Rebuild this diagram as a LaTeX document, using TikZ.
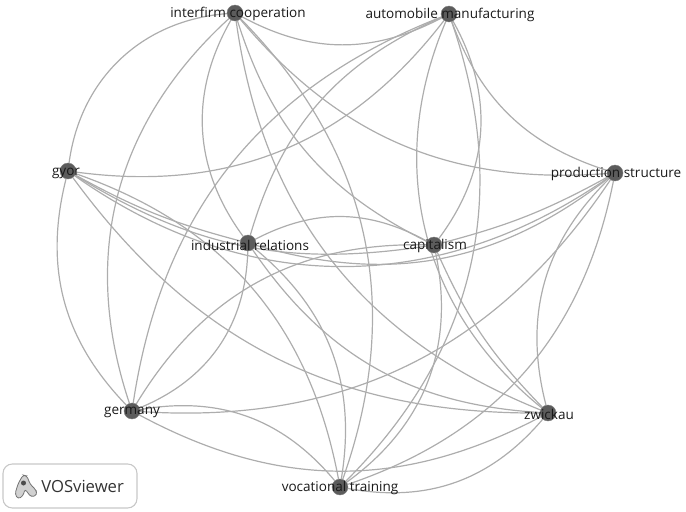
\documentclass[tikz,border=0pt]{standalone}
\usepackage{fontspec}
\setmainfont{Open Sans}
\usetikzlibrary{positioning,backgrounds}

\begin{document}
\begin{tikzpicture}[
    x=0.75pt, y=-0.75pt,
    term/.style={circle, fill=black!64, draw=black!50, line width=0.3pt, minimum size=12pt, inner sep=0pt},
    link/.style={draw, line width=0.9pt, color=black!32},
    tag/.style={inner sep=0pt, text=black!90, font=\fontsize{10.15}{12}\selectfont}
]
\useasboundingbox (0,0) rectangle (686,511);

% Define term positions
\node[term] (coop) at (235, 13) {};
\node[term] (auto) at (449, 14) {};
\node[term] (prod) at (615, 173) {};
\node[term] (gyor) at (68, 171) {};
\node[term] (rel) at (248, 243) {};
\node[term] (cap) at (434, 245) {};
\node[term] (ger) at (132, 411) {};
\node[term] (zwi) at (548, 413) {};
\node[term] (voc) at (340, 487) {};

% Draw links behind the terms
\begin{scope}[on background layer]
\draw[link] (coop) to[bend right=28] (auto);
\draw[link] (coop) to[bend right=39] (gyor);
\draw[link] (coop) to[bend right=33] (ger);
\draw[link] (coop) to[bend right=33] (rel);
\draw[link] (coop) to[bend right=23] (cap);
\draw[link] (coop) to[bend right=27] (prod);
\draw[link] (coop) to[bend left=32] (voc);
\draw[link] (coop) to[bend right=30] (zwi);
\draw[link] (auto) to[bend right=25] (rel);
\draw[link] (auto) to[bend right=30] (ger);
\draw[link] (auto) to[bend left=30] (gyor);
\draw[link] (auto) to[bend right=26] (prod);
\draw[link] (auto) to[bend left=33] (cap);
\draw[link] (auto) to[bend left=32] (voc);
\draw[link] (auto) to[bend right=37] (zwi);
\draw[link] (prod) to[bend left=7] (cap);
\draw[link] (prod) to[bend left=35] (gyor);
\draw[link] (prod) to[bend left=27] (rel);
\draw[link] (prod) to[bend left=30] (ger);
\draw[link] (prod) to[bend right=30] (zwi);
\draw[link] (prod) to[bend left=30] (voc);
\draw[link] (gyor) to[bend right=7] (rel);
\draw[link] (gyor) to[bend right=20] (cap);
\draw[link] (gyor) to[bend right=29] (ger);
\draw[link] (gyor) to[bend right=27] (zwi);
\draw[link] (gyor) to[bend left=30] (voc);
\draw[link] (rel) to[bend left=28] (cap);
\draw[link] (rel) to[bend left=33] (ger);
\draw[link] (rel) to[bend left=30] (voc);
\draw[link] (rel) to[bend right=26] (zwi);
\draw[link] (cap) to[bend right=30] (ger);
\draw[link] (cap) to[bend right=10] (zwi);
\draw[link] (cap) to[bend left=33] (voc);
\draw[link] (ger) to[bend left=30] (voc);
\draw[link] (ger) to[bend right=28] (zwi);
\draw[link] (voc) to[bend right=30] (zwi);
\end{scope}

% Add term labels
\node[tag] (coop-tag) at (238, 14) {interfirm cooperation};
\node[tag] (auto-tag) at (450, 15) {automobile manufacturing};
\node[tag] (prod-tag) at (616, 174) {production structure};
\node[tag] (gyor-tag) at (66, 173) {gyor};
\node[tag] (rel-tag) at (250, 245) {industrial relations};
\node[tag] (cap-tag) at (435, 246) {capitalism};
\node[tag] (ger-tag) at (132, 412) {germany};
\node[tag] (zwi-tag) at (549, 414) {zwickau};
\node[tag] (voc-tag) at (340, 488) {vocational training};

% Add logo box
\draw[black!22, line width=0.8pt, rounded corners=7pt] (3, 464) rectangle (137, 508);
\node[inner sep=0pt, anchor=west, text=black!80, font=\fontsize{12.5}{14}\selectfont] (logo) at (41, 486) {VOSviewer};
\draw[fill=black!18, draw=black!55, line width=0.6pt, rounded corners=2pt]
    (23, 475) -- (18, 484) -- (15, 494) -- (18, 499) -- (23, 496) -- (25, 489)
    -- (31, 497) -- (37, 495) -- (36, 490) -- (30, 484) -- (27, 476) -- cycle;
\fill[black!70] (23.5, 483) circle (2.5);

\end{tikzpicture}
\end{document}
